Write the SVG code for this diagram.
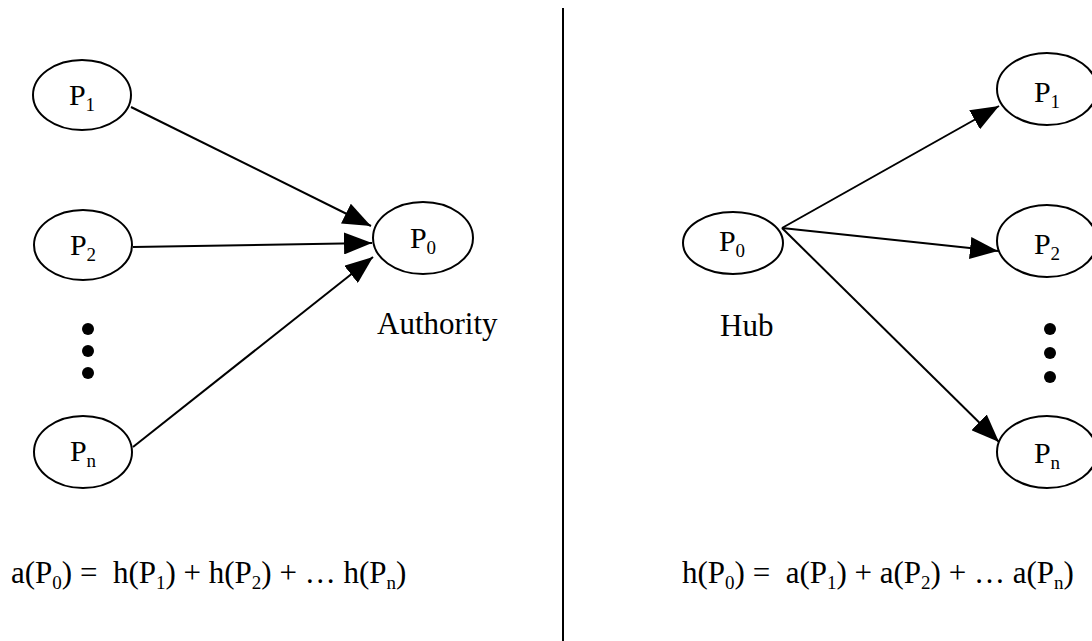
<svg xmlns="http://www.w3.org/2000/svg" width="1092" height="641" viewBox="0 0 1092 641">
  <style>
    .node { fill: #ffffff; stroke: #000000; stroke-width: 2; }
    .lbl { font-family: "Liberation Serif", "Times New Roman", serif; font-size: 30px; fill: #000000; text-anchor: middle; }
    .txt { font-family: "Liberation Serif", "Times New Roman", serif; font-size: 31px; fill: #000000; white-space: pre; }
    .sub { font-size: 19px; }
    .edge { stroke: #000000; stroke-width: 2; fill: none; marker-end: url(#head); }
    .dot { fill: #000000; }
  </style>
  <defs>
    <marker id="head" markerUnits="userSpaceOnUse" markerWidth="28" markerHeight="22" refX="28" refY="11" orient="auto">
      <path d="M0,0 L28,11 L0,22 z" fill="#000000"/>
    </marker>
  </defs>

  <rect width="1092" height="641" fill="#ffffff"/>

  <!-- divider between the two halves -->
  <line x1="563" y1="8" x2="563" y2="641" stroke="#000000" stroke-width="2"/>

  <!-- connectors -->
  <g id="connectors">
    <line class="edge" x1="131" y1="107" x2="371" y2="226"/>
    <line class="edge" x1="133" y1="247" x2="372" y2="243"/>
    <line class="edge" x1="133" y1="447" x2="373" y2="257"/>
    <line class="edge" x1="782" y1="228" x2="999" y2="106"/>
    <line class="edge" x1="782" y1="228" x2="998" y2="251"/>
    <line class="edge" x1="782" y1="228" x2="999" y2="442"/>
  </g>

  <!-- authority side -->
  <g id="a-p1">
    <ellipse class="node" cx="82" cy="95" rx="49" ry="35"/>
    <text class="lbl" x="82" y="105">P<tspan class="sub" dy="6">1</tspan></text>
  </g>
  <g id="a-p2">
    <ellipse class="node" cx="83" cy="245" rx="49" ry="35"/>
    <text class="lbl" x="83" y="255">P<tspan class="sub" dy="6">2</tspan></text>
  </g>
  <g id="a-dots">
    <circle class="dot" cx="88" cy="329" r="6"/>
    <circle class="dot" cx="88" cy="351" r="6"/>
    <circle class="dot" cx="88" cy="373" r="6"/>
  </g>
  <g id="a-pn">
    <ellipse class="node" cx="83" cy="452" rx="49" ry="36"/>
    <text class="lbl" x="83" y="461">P<tspan class="sub" dy="6">n</tspan></text>
  </g>
  <g id="a-p0">
    <ellipse class="node" cx="423" cy="238" rx="50" ry="36"/>
    <text class="lbl" x="423" y="248">P<tspan class="sub" dy="6">0</tspan></text>
  </g>
  <text class="txt" x="377" y="334">Authority</text>
  <text class="txt" x="11" y="583">a(P<tspan class="sub" dy="6">0</tspan><tspan dy="-6">) =  h(P</tspan><tspan class="sub" dy="6">1</tspan><tspan dy="-6">) + h(P</tspan><tspan class="sub" dy="6">2</tspan><tspan dy="-6">) + … h(P</tspan><tspan class="sub" dy="6">n</tspan><tspan dy="-6">)</tspan></text>

  <!-- hub side -->
  <g id="h-p0">
    <ellipse class="node" cx="733" cy="243" rx="50" ry="31"/>
    <text class="lbl" x="732" y="251">P<tspan class="sub" dy="6">0</tspan></text>
  </g>
  <text class="txt" x="720" y="336">Hub</text>
  <g id="h-p1">
    <ellipse class="node" cx="1047" cy="89" rx="50" ry="36"/>
    <text class="lbl" x="1047" y="102">P<tspan class="sub" dy="6">1</tspan></text>
  </g>
  <g id="h-p2">
    <ellipse class="node" cx="1047" cy="241" rx="50" ry="36"/>
    <text class="lbl" x="1047" y="254">P<tspan class="sub" dy="6">2</tspan></text>
  </g>
  <g id="h-dots">
    <circle class="dot" cx="1050" cy="329" r="6"/>
    <circle class="dot" cx="1050" cy="353" r="6"/>
    <circle class="dot" cx="1050" cy="377" r="6"/>
  </g>
  <g id="h-pn">
    <ellipse class="node" cx="1047" cy="452" rx="50" ry="36"/>
    <text class="lbl" x="1047" y="463">P<tspan class="sub" dy="6">n</tspan></text>
  </g>
  <text class="txt" x="682" y="583">h(P<tspan class="sub" dy="6">0</tspan><tspan dy="-6">) =  a(P</tspan><tspan class="sub" dy="6">1</tspan><tspan dy="-6">) + a(P</tspan><tspan class="sub" dy="6">2</tspan><tspan dy="-6">) + … a(P</tspan><tspan class="sub" dy="6">n</tspan><tspan dy="-6">)</tspan></text>
</svg>
